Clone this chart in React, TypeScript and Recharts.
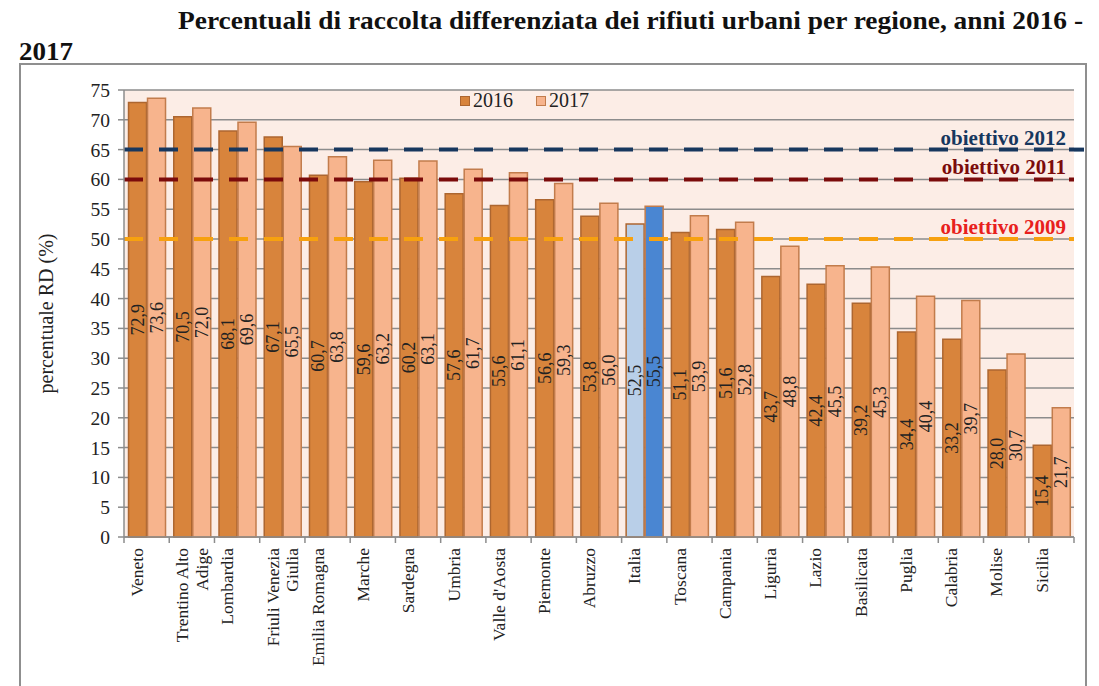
import { Bar, BarChart, CartesianGrid, Cell, LabelList, ReferenceLine, XAxis, YAxis } from 'recharts'

const regioni = [
  'Veneto',
  'Trentino Alto\nAdige',
  'Lombardia',
  'Friuli Venezia\nGiulia',
  'Emilia Romagna',
  'Marche',
  'Sardegna',
  'Umbria',
  "Valle d'Aosta",
  'Piemonte',
  'Abruzzo',
  'Italia',
  'Toscana',
  'Campania',
  'Liguria',
  'Lazio',
  'Basilicata',
  'Puglia',
  'Calabria',
  'Molise',
  'Sicilia',
]
const rd2016 = [72.9, 70.5, 68.1, 67.1, 60.7, 59.6, 60.2, 57.6, 55.6, 56.6, 53.8, 52.5, 51.1, 51.6, 43.7, 42.4, 39.2, 34.4, 33.2, 28.0, 15.4]
const rd2017 = [73.6, 72.0, 69.6, 65.5, 63.8, 63.2, 63.1, 61.7, 61.1, 59.3, 56.0, 55.5, 53.9, 52.8, 48.8, 45.5, 45.3, 40.4, 39.7, 30.7, 21.7]
const yTicks = [0, 5, 10, 15, 20, 25, 30, 35, 40, 45, 50, 55, 60, 65, 70, 75]
const obiettivi = [65, 60, 50]
const obiettiviLabel = ['obiettivo 2012', 'obiettivo 2011', 'obiettivo 2009']
const anni = ['2016', '2017']

const FONT = 'Liberation Serif, serif'
const GRIGIO = '#8c8c8c'
const lineaColori = ['#17375e', '#7b0b0b', '#f7a10f']
const testoColori = ['#17375e', '#7b0b0b', '#e8201c']

const dati = regioni.map((r, i) => ({ nome: r, y2016: rd2016[i], y2017: rd2017[i] }))

const fmt = (v: number) => v.toFixed(1).replace('.', ',')

function TickRegione(props: any) {
  const { x, y, payload, index } = props
  const half = payload?.offset || 949 / 21 / 2
  const righe = String(payload.value).split('\n')
  return (
    <g>
      <line x1={x - half} y1={y} x2={x - half} y2={y + 6} stroke={GRIGIO} strokeWidth={1.5} />
      {index === regioni.length - 1 && (
        <line x1={x + half} y1={y} x2={x + half} y2={y + 6} stroke={GRIGIO} strokeWidth={1.5} />
      )}
      {righe.map((t, i) => {
        const lx = x - 9.75 + i * 19.5
        const ly = y + 11
        return (
          <text
            key={i}
            x={lx}
            y={ly}
            transform={`rotate(-90, ${lx}, ${ly})`}
            textAnchor="end"
            dominantBaseline="central"
            fontSize={17.5}
            fontFamily={FONT}
            fill="#222"
          >
            {t}
          </text>
        )
      })}
    </g>
  )
}

function ValoreBarra(props: any) {
  const { x, y, width, height, value } = props
  const cx = x + width / 2
  const cy = y + height / 2
  return (
    <text
      x={cx}
      y={cy}
      transform={`rotate(-90, ${cx}, ${cy})`}
      textAnchor="middle"
      dominantBaseline="central"
      fontSize={18}
      fontFamily={FONT}
      fill="#222"
    >
      {fmt(value)}
    </text>
  )
}

function EtichettaObiettivo(props: any) {
  const { viewBox, testo, colore, lineaColore, estendi } = props
  const { x, y, width } = viewBox
  return (
    <g>
      {estendi && <line x1={x + width} y1={y} x2={x + width + 10} y2={y} stroke={lineaColore} strokeWidth={4} />}
      <text
        x={x + width - 8}
        y={y - 5}
        textAnchor="end"
        fontSize={21}
        fontWeight="bold"
        fontFamily={FONT}
        fill={colore}
      >
        {testo}
      </text>
    </g>
  )
}

export default function App() {
  return (
    <div style={{ position: 'absolute', left: 0, top: 0, width: 1099, height: 686, background: '#fff', overflow: 'hidden' }}>
      <svg width={1099} height={70} style={{ position: 'absolute', left: 0, top: 0 }}>
        <text x={178} y={29} textLength={905} lengthAdjust="spacingAndGlyphs" fontSize={25} fontWeight="bold" fontFamily={FONT} fill="#111">
          Percentuali di raccolta differenziata dei rifiuti urbani per regione, anni 2016 -
        </text>
        <text x={19} y={60} textLength={54} lengthAdjust="spacingAndGlyphs" fontSize={25} fontWeight="bold" fontFamily={FONT} fill="#111">
          2017
        </text>
      </svg>
      <div
        style={{
          position: 'absolute',
          left: 19,
          top: 63,
          width: 1064,
          height: 640,
          border: '2px solid #8f8f8f',
        }}
      />
      <div style={{ position: 'absolute', left: 0, top: 0 }}>
        <BarChart
          width={1099}
          height={686}
          data={dati}
          margin={{ top: 90, right: 25, bottom: 9, left: 24 }}
          barCategoryGap="10%"
          barGap={1}
        >
          <CartesianGrid vertical={false} stroke={GRIGIO} strokeWidth={1.5} fill="#fcede6" fillOpacity={1} />
          <XAxis
            dataKey="nome"
            interval={0}
            tickLine={false}
            tickSize={0}
            tickMargin={0}
            height={140}
            axisLine={{ stroke: GRIGIO, strokeWidth: 1.5 }}
            tick={<TickRegione />}
          />
          <YAxis
            width={100}
            domain={[0, 75]}
            ticks={yTicks}
            interval={0}
            tickSize={6}
            tickMargin={8}
            axisLine={{ stroke: GRIGIO, strokeWidth: 1.5 }}
            tickLine={{ stroke: GRIGIO, strokeWidth: 1.5 }}
            tick={{ fontSize: 19.5, fontFamily: FONT, fill: '#222' }}
            label={{
              value: 'percentuale RD (%)',
              angle: -90,
              position: 'center',
              dx: -28,
              style: { fontSize: 20, fontFamily: FONT, fill: '#222' },
            }}
          />
          <Bar dataKey="y2016" name={anni[0]} fill="#d8843c" stroke="#ad6630" strokeWidth={1.5} isAnimationActive={false}>
            {dati.map((d) => (
              <Cell key={d.nome} fill={d.nome === 'Italia' ? '#b9cfe8' : '#d8843c'} />
            ))}
            <LabelList dataKey="y2016" content={<ValoreBarra />} />
          </Bar>
          <Bar dataKey="y2017" name={anni[1]} fill="#f7b48d" stroke="#c27c4c" strokeWidth={1.5} isAnimationActive={false}>
            {dati.map((d) => (
              <Cell key={d.nome} fill={d.nome === 'Italia' ? '#4a86d2' : '#f7b48d'} />
            ))}
            <LabelList dataKey="y2017" content={<ValoreBarra />} />
          </Bar>
          {obiettivi.map((v, i) => (
            <ReferenceLine
              key={v}
              y={v}
              stroke={lineaColori[i]}
              strokeWidth={4}
              strokeDasharray="19 16"
              label={
                <EtichettaObiettivo
                  testo={obiettiviLabel[i]}
                  colore={testoColori[i]}
                  lineaColore={lineaColori[i]}
                  estendi={i === 0}
                />
              }
            />
          ))}
        </BarChart>
      </div>
      <div
        style={{
          position: 'absolute',
          left: 460,
          top: 89,
          display: 'flex',
          alignItems: 'center',
          fontFamily: FONT,
          fontSize: 20,
          color: '#222',
        }}
      >
        <span style={{ width: 8, height: 8, background: '#d8843c', border: '1px solid #ad6630', marginRight: 3 }} />
        <span style={{ marginRight: 23 }}>{anni[0]}</span>
        <span style={{ width: 8, height: 8, background: '#f7b48d', border: '1px solid #c27c4c', marginRight: 3 }} />
        <span>{anni[1]}</span>
      </div>
    </div>
  )
}
